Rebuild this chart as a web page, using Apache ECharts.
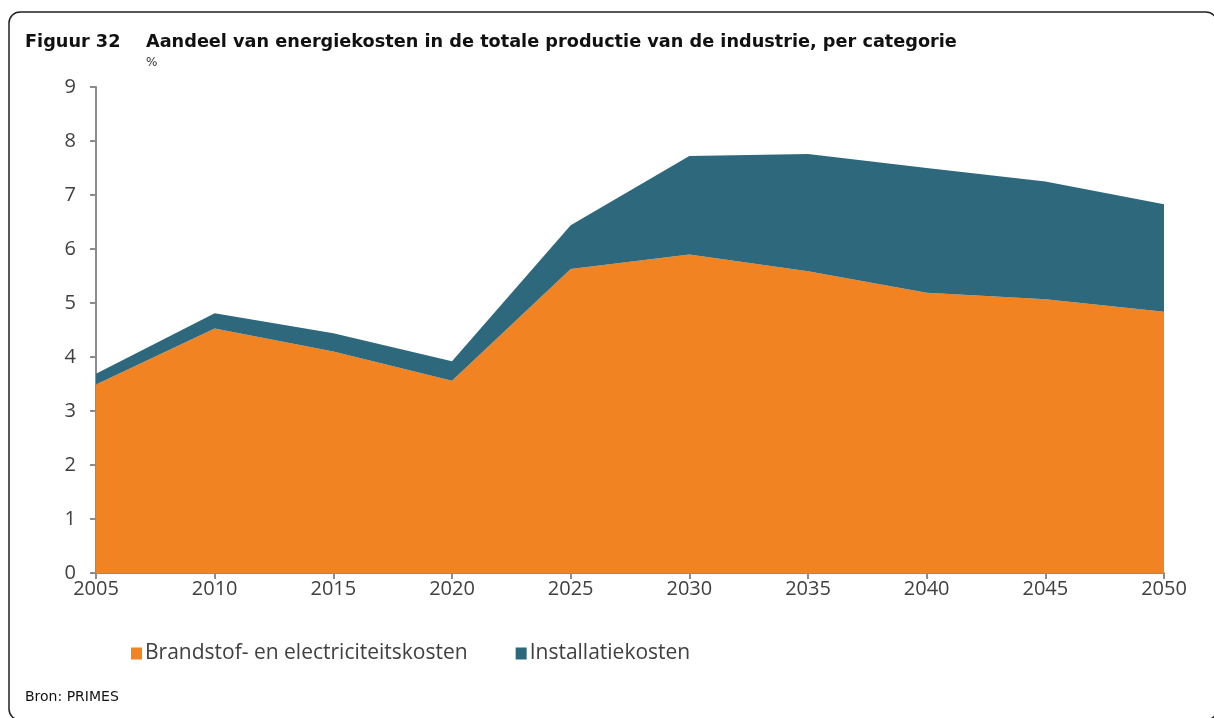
<!DOCTYPE html>
<html>
<head>
    <meta charset="utf-8">
    <title>Figuur 32</title>
    <script src="https://cdn.jsdelivr.net/npm/echarts@6/dist/echarts.min.js"></script>
    <style>
        html, body { margin: 0; padding: 0; background: #fff; }
        #chart { width: 1214px; height: 718px; }
    </style>
</head>
<body>
<div id="chart"></div>
<script>
    // jaren en waarden (%)
    var years = ['2005', '2010', '2015', '2020', '2025', '2030', '2035', '2040', '2045', '2050'];
    var brandstof = [3.49, 4.53, 4.10, 3.56, 5.63, 5.90, 5.59, 5.19, 5.07, 4.84];
    var installatie = [0.20, 0.28, 0.34, 0.36, 0.81, 1.82, 2.17, 2.31, 2.18, 1.99];
    var yTicks = [0, 1, 2, 3, 4, 5, 6, 7, 8, 9];

    var font = '"DejaVu Sans", Verdana, sans-serif';
    var axisFont = '"Open Sans", "DejaVu Sans", sans-serif';
    var axisGrey = '#8c8c8c';

    var myChart = echarts.init(document.getElementById('chart'), null, {renderer: 'canvas'});

    var option = {
        animation: false,
        backgroundColor: '#fff',
        textStyle: {fontFamily: font},
        grid: {left: 96, right: 50, top: 87, bottom: 145},
        graphic: [
            {
                type: 'rect',
                shape: {x: 9, y: 12, width: 1208, height: 708, r: 11},
                style: {fill: 'none', stroke: '#222', lineWidth: 1.5},
                silent: true
            },
            {
                type: 'text', left: 25, top: 33,
                style: {text: 'Figuur 32', font: 'bold 17.7px ' + font, fill: '#111'}
            },
            {
                type: 'text', left: 146, top: 33,
                style: {
                    text: 'Aandeel van energiekosten in de totale productie van de industrie, per categorie',
                    font: 'bold 17.7px ' + font, fill: '#111'
                }
            },
            {
                type: 'text', left: 146, top: 57,
                style: {text: '%', font: '12px ' + font, fill: '#333'}
            },
            {
                type: 'text', left: 25, top: 690,
                style: {text: 'Bron: PRIMES', font: '14px ' + font, fill: '#111'}
            }
        ],
        legend: {
            left: 126, top: 638,
            itemWidth: 11, itemHeight: 12, itemGap: 48,
            icon: 'rect',
            textStyle: {fontSize: 21, color: '#404040', fontFamily: axisFont, padding: [0, 0, 0, -2]},
            data: ['Brandstof- en electriciteitskosten', 'Installatiekosten']
        },
        xAxis: {
            type: 'category',
            data: years,
            boundaryGap: false,
            axisLine: {lineStyle: {color: axisGrey, width: 2}},
            axisTick: {show: true, length: 6, alignWithLabel: true, lineStyle: {color: axisGrey, width: 2}},
            splitLine: {show: false},
            axisLabel: {color: '#404040', fontSize: 20, fontFamily: axisFont, margin: 6}
        },
        yAxis: {
            type: 'value',
            min: yTicks[0], max: yTicks[yTicks.length - 1], interval: 1,
            axisLine: {show: true, lineStyle: {color: axisGrey, width: 2}},
            axisTick: {show: true, length: 6, lineStyle: {color: axisGrey, width: 2}},
            splitLine: {show: false},
            axisLabel: {color: '#404040', fontSize: 20, fontFamily: axisFont, margin: 20}
        },
        series: [
            {
                name: 'Brandstof- en electriciteitskosten',
                type: 'line', stack: 'totaal',
                symbol: 'none',
                lineStyle: {width: 0},
                areaStyle: {color: '#F28322', opacity: 1},
                itemStyle: {color: '#F28322'},
                data: brandstof
            },
            {
                name: 'Installatiekosten',
                type: 'line', stack: 'totaal',
                symbol: 'none',
                lineStyle: {width: 0},
                areaStyle: {color: '#2E687D', opacity: 1},
                itemStyle: {color: '#2E687D'},
                data: installatie
            }
        ]
    };

    myChart.setOption(option);
</script>
</body>
</html>
